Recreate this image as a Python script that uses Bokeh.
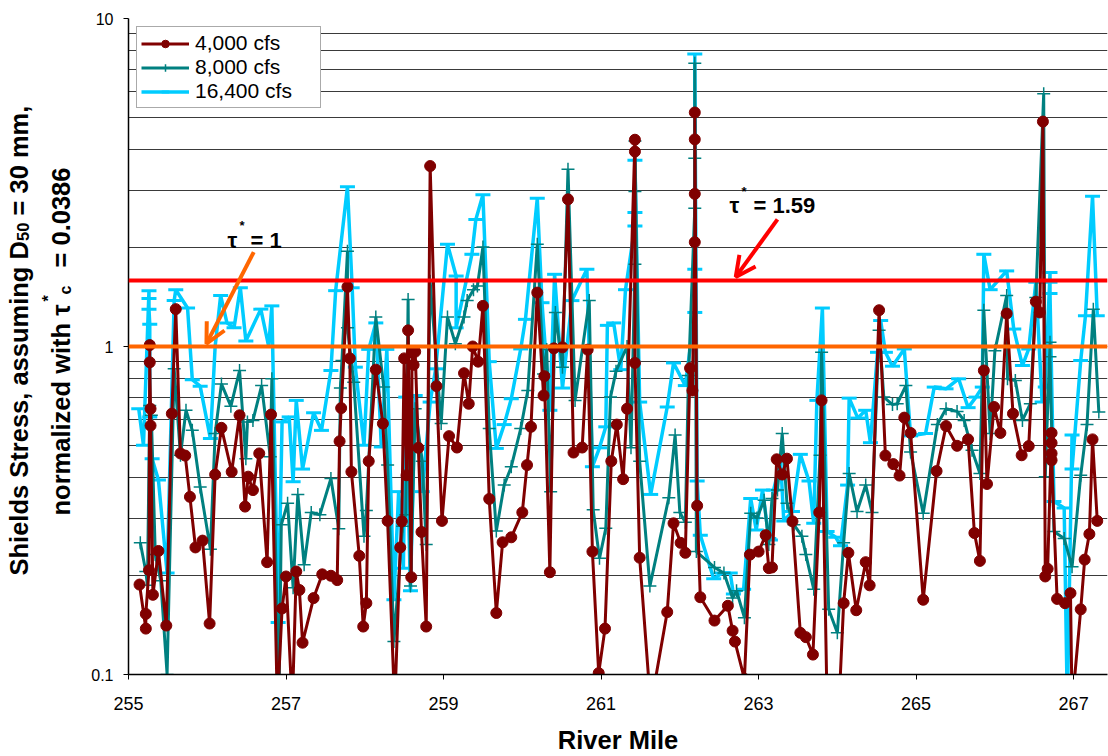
import math
from bokeh.plotting import figure
from bokeh.layouts import row
from bokeh.models import Range1d, FixedTicker, Span, Label, Arrow, OpenHead, Legend, LegendItem
from bokeh.embed import file_html
from bokeh.resources import INLINE

# ---------------- data ----------------
mile_4000 = [255.14,255.22,255.22,255.26,255.27,255.27,255.28,255.28,255.31,255.38,
             255.48,255.55,255.60,255.66,255.72,255.78,255.85,255.94,256.03,256.10,
             256.18,256.31,256.41,256.48,256.52,256.58,256.66,256.76,256.81,256.89,
             256.95,257.00,257.08,257.13,257.17,257.21,257.35,257.46,257.57,257.65,
             257.68,257.70,257.78,257.81,257.83,257.93,257.98,258.02,258.05,258.14,
             258.23,258.29,258.38,258.45,258.47,258.50,258.53,258.55,258.59,258.60,
             258.62,258.64,258.68,258.72,258.78,258.83,258.91,258.98,259.07,259.17,
             259.26,259.32,259.37,259.44,259.50,259.58,259.67,259.75,259.86,260.00,
             260.06,260.11,260.19,260.27,260.28,260.35,260.40,260.51,260.58,260.65,
             260.76,260.83,260.89,260.97,261.05,261.13,261.20,261.28,261.33,261.43,
             261.43,261.43,261.49,261.63,261.84,261.92,262.01,262.07,262.13,262.16,
             262.19,262.19,262.19,262.19,262.22,262.26,262.44,262.61,262.67,262.70,
             262.82,262.89,263.00,263.09,263.13,263.17,263.23,263.30,263.36,263.43,
             263.53,263.60,263.69,263.77,263.80,263.87,264.02,264.08,264.14,264.24,
             264.36,264.41,264.53,264.61,264.71,264.79,264.85,264.93,265.09,265.26,
             265.38,265.52,265.66,265.74,265.81,265.86,265.90,265.99,266.07,266.15,
             266.23,266.34,266.43,266.52,266.57,266.61,266.64,266.67,266.72,266.72,
             266.72,266.72,266.79,266.89,266.96,266.98,267.09,267.14,267.20,267.24,
             267.30]
stress_4000 = [0.188,0.138,0.153,0.208,1.01,0.895,0.646,0.574,0.175,0.238,
               0.141,0.624,1.30,0.472,0.465,0.348,0.244,0.256,0.143,0.407,
               0.565,0.415,0.617,0.325,0.401,0.365,0.472,0.220,0.620,0.08,
               0.159,0.199,0.08,0.206,0.181,0.125,0.171,0.202,0.200,0.194,
               0.514,0.649,1.52,0.92,0.415,0.230,0.140,0.165,0.447,0.85,
               0.582,0.294,0.08,0.244,0.293,0.92,0.405,1.12,0.198,0.96,
               0.879,0.964,0.491,0.272,0.140,3.55,0.757,0.294,0.533,0.492,
               0.829,0.669,1.0,0.899,1.33,0.343,0.154,0.253,0.262,0.312,
               0.435,0.569,1.46,0.709,0.812,0.205,0.987,0.994,2.81,0.475,
               0.492,0.978,0.237,0.101,0.138,0.447,0.578,0.394,0.646,4.27,
               3.93,0.891,0.227,0.08,0.155,0.289,0.252,0.235,0.859,0.734,
               2.08,2.92,4.28,5.17,0.327,0.172,0.146,0.162,0.136,0.126,
               0.097,0.232,0.237,0.266,0.211,0.212,0.453,0.407,0.455,0.293,
               0.134,0.130,0.115,0.312,0.685,0.08,0.08,0.165,0.235,0.157,
               0.220,0.187,1.29,0.465,0.438,0.404,0.607,0.545,0.169,0.417,
               0.572,0.498,0.521,0.270,0.222,0.845,0.381,0.654,0.545,1.26,
               0.624,0.466,0.497,1.37,1.27,4.85,0.199,0.210,0.545,0.508,
               0.472,0.45,0.170,0.165,0.177,0.08,0.158,0.224,0.268,0.521,
               0.294]

mile_8000 = [255.15,255.22,255.24,255.27,255.29,255.34,255.41,255.49,255.58,255.66,
             255.73,255.81,255.91,256.04,256.10,256.18,256.30,256.41,256.49,256.51,
             256.58,256.69,256.80,256.82,256.91,256.94,257.02,257.09,257.15,257.23,
             257.32,257.43,257.57,257.67,257.69,257.71,257.78,257.78,257.86,257.99,
             258.02,258.14,258.24,258.29,258.37,258.48,258.52,258.55,258.58,258.64,
             258.73,258.78,258.83,258.97,259.05,259.15,259.26,259.30,259.38,259.43,
             259.50,259.58,259.67,259.77,259.86,259.98,260.07,260.19,260.27,260.31,
             260.36,260.42,260.51,260.58,260.67,260.85,260.90,260.98,261.06,261.12,
             261.19,261.33,261.38,261.43,261.43,261.43,261.49,261.62,261.86,261.94,
             262.00,262.07,262.11,262.19,262.19,262.19,262.21,262.44,262.56,262.67,
             262.72,262.82,262.90,262.98,263.07,263.13,263.17,263.24,263.30,263.36,
             263.45,263.55,263.60,263.70,263.78,263.80,263.89,264.00,264.08,264.15,
             264.25,264.36,264.44,264.53,264.59,264.70,264.76,264.87,264.93,265.09,
             265.27,265.38,265.52,265.61,265.71,265.81,265.86,265.94,266.00,266.15,
             266.16,266.26,266.35,266.45,266.52,266.62,266.64,266.70,266.70,266.75,
             266.88,266.98,267.09,267.17,267.25,267.32]
stress_8000 = [0.252,0.206,0.187,0.661,0.617,0.232,0.193,0.10,0.855,0.466,
               0.639,0.555,0.373,0.241,0.543,0.769,0.657,0.845,0.455,0.589,
               0.595,0.76,0.461,0.797,0.08,0.286,0.333,0.184,0.354,0.216,
               0.312,0.307,0.396,0.278,0.747,0.906,1.95,1.14,0.778,0.264,
               0.316,1.23,0.752,0.435,0.126,0.283,0.307,1.39,0.186,0.646,
               0.447,0.249,1.58,0.582,1.23,1.02,1.23,1.38,1.49,1.53,
               2.01,0.562,0.274,0.378,0.430,0.562,0.734,2.05,0.825,0.98,
               0.361,1.27,0.865,3.47,0.685,1.38,0.318,0.226,0.279,0.701,
               0.841,1.0,0.491,1.78,2.97,4.23,0.447,0.186,0.346,0.537,
               0.312,0.291,0.816,2.64,3.75,7.3,0.237,0.212,0.204,0.171,
               0.180,0.149,0.310,0.300,0.340,0.249,0.344,0.365,0.543,0.333,
               0.286,0.264,0.232,0.182,0.466,0.96,0.158,0.134,0.252,0.41,
               0.314,0.378,0.312,1.12,0.701,0.665,0.669,0.76,0.477,0.310,
               0.578,0.646,0.634,0.595,0.483,0.41,1.29,0.543,0.97,1.43,
               0.797,0.788,0.595,0.669,1.41,5.9,0.401,1.03,0.93,0.273,
               0.26,0.213,0.405,0.578,1.30,0.631]

mile_16400 = [255.13,255.19,255.26,255.26,255.26,255.27,255.27,255.30,255.38,255.49,
              255.58,255.60,255.75,255.81,255.91,256.04,256.10,256.17,256.25,256.34,
              256.42,256.49,256.68,256.78,256.82,256.90,256.95,257.04,257.09,257.13,
              257.21,257.35,257.45,257.57,257.63,257.78,257.84,257.88,257.99,258.05,
              258.14,258.21,258.28,258.37,258.43,258.49,258.52,258.58,258.64,258.73,
              258.83,258.90,259.05,259.16,259.16,259.36,259.41,259.50,259.58,259.67,
              259.77,259.86,259.98,260.04,260.19,260.25,260.35,260.41,260.51,260.63,
              260.82,260.89,260.98,261.06,261.08,261.16,261.25,261.31,261.43,261.43,
              261.43,261.49,261.63,261.84,261.92,262.07,262.19,262.19,262.19,262.22,
              262.26,262.43,262.54,262.64,262.68,262.81,262.90,262.97,263.05,263.13,
              263.15,263.19,263.28,263.32,263.43,263.53,263.64,263.70,263.74,263.81,
              263.87,263.98,264.04,264.13,264.15,264.26,264.36,264.42,264.51,264.55,
              264.61,264.70,264.85,264.93,265.12,265.23,265.38,265.54,265.66,265.76,
              265.84,265.86,265.94,266.15,266.24,266.35,266.43,266.52,266.60,266.64,
              266.70,266.70,266.70,266.75,266.88,266.92,266.98,266.98,267.09,267.15,
              267.24,267.30]
stress_16400 = [0.646,0.50,1.48,1.40,1.30,1.17,0.61,0.455,0.392,0.204,
                1.38,1.49,1.31,0.792,0.757,0.524,1.0,1.43,1.18,1.14,
                1.51,1.04,1.30,1.0,1.33,0.144,0.589,0.610,0.387,0.685,
                0.423,0.628,0.555,0.845,1.48,3.07,1.51,0.865,0.5,0.98,
                1.18,0.494,0.98,0.169,0.361,0.211,0.701,0.180,0.709,0.361,
                0.677,0.855,2.05,1.64,1.14,1.91,2.44,2.9,0.899,0.489,
                0.578,0.693,0.983,1.21,2.83,1.36,0.639,1.66,0.747,1.38,
                1.72,0.430,0.491,0.569,1.16,1.18,0.85,1.49,2.33,2.56,
                3.7,0.677,0.354,0.654,0.891,0.76,1.27,1.72,7.8,0.389,
                0.266,0.196,0.204,0.204,0.176,0.182,0.344,0.276,0.365,0.26,
                0.257,0.365,0.448,0.294,0.314,0.469,0.389,0.289,0.685,1.31,
                0.273,0.262,0.247,0.378,0.696,0.605,0.639,0.509,0.96,1.20,
                0.96,0.871,0.983,0.534,0.543,0.752,0.743,0.797,0.651,0.701,
                0.752,1.91,1.49,1.70,1.13,0.875,0.983,1.57,0.677,0.752,
                1.68,1.57,1.45,0.337,0.322,0.08,0.537,0.423,0.906,1.24,
                2.87,1.24]

series_labels = ["4,000 cfs", "8,000 cfs", "16,400 cfs"]
x_ticks = [255, 257, 259, 261, 263, 265, 267]
y_ticks = [0.1, 1, 10]
y_minor = [0.2, 0.3, 0.4, 0.5, 0.6, 0.7, 0.8, 0.9, 2, 3, 4, 5, 6, 7, 8, 9]
tau_one = 1.0
tau_159 = 1.59
# arrow ends (River Mile, stress) for the two call-outs
arrow_one = (256.59, 1.94, 255.99, 1.02)
arrow_159 = (263.24, 2.44, 262.71, 1.63)

assert len(mile_4000) == len(stress_4000)
assert len(mile_8000) == len(stress_8000)
assert len(mile_16400) == len(stress_16400)

C4, C8, C16 = "#800000", "#008080", "#00CCFF"
FONT = "Liberation Sans"
TITLE_W = 80

p = figure(width=1108 - TITLE_W, height=756, y_axis_type="log",
           x_range=Range1d(255, 267.43), y_range=Range1d(0.1, 10),
           output_backend="svg", toolbar_location=None,
           min_border_left=128 - TITLE_W, min_border_right=1, min_border_top=18, min_border_bottom=79)
p.outline_line_color = None
p.background_fill_color = "white"
p.border_fill_color = "white"

# grid
p.xgrid.grid_line_color = None
p.ygrid.grid_line_color = "#3a3a3a"
p.ygrid.grid_line_width = 1
p.ygrid.minor_grid_line_color = "#3a3a3a"
p.ygrid.minor_grid_line_width = 1

# axes
p.yaxis.ticker = FixedTicker(ticks=y_ticks, minor_ticks=y_minor)
p.yaxis.major_label_overrides = {0.1: "0.1", 1: "1", 10: "10"}
p.xaxis.ticker = FixedTicker(ticks=x_ticks)
for ax in (p.xaxis[0], p.yaxis[0]):
    ax.axis_line_color = "black"
    ax.axis_line_width = 1.5
    ax.major_tick_line_color = "black"
    ax.major_tick_out = 5
    ax.major_tick_in = 0
    ax.minor_tick_out = 0
    ax.minor_tick_in = 0
    ax.major_label_text_font = FONT
    ax.major_label_text_color = "black"
p.xaxis.major_label_text_font_size = "18px"
p.yaxis.major_label_text_font_size = "16px"
p.xaxis.major_label_standoff = 17
p.yaxis.major_label_standoff = 10
p.xaxis.axis_label = "River Mile"
p.xaxis.axis_label_text_font = FONT
p.xaxis.axis_label_text_font_style = "bold"
p.xaxis.axis_label_text_font_size = "25.5px"
p.xaxis.axis_label_text_color = "black"
p.xaxis.axis_label_standoff = 13

# series (cyan bottom, teal, dark red on top)
l16 = p.line(mile_16400, stress_16400, line_color=C16, line_width=3.5)
s16 = p.scatter(mile_16400, stress_16400, marker="dash", size=15, line_color=C16, line_width=3)
l8 = p.line(mile_8000, stress_8000, line_color=C8, line_width=3)
s8 = p.scatter(mile_8000, stress_8000, marker="cross", size=13, line_color=C8, line_width=1.5)
l4 = p.line(mile_4000, stress_4000, line_color=C4, line_width=3)
s4 = p.scatter(mile_4000, stress_4000, marker="circle", size=11, fill_color=C4, line_color=C4)

# threshold lines
p.add_layout(Span(location=tau_159, dimension="width", line_color="#FF0000", line_width=4))
p.add_layout(Span(location=tau_one, dimension="width", line_color="#FF6600", line_width=4))

# arrows
p.add_layout(Arrow(end=OpenHead(line_color="#FF6600", line_width=4, size=20),
                   x_start=arrow_one[0], y_start=arrow_one[1], x_end=arrow_one[2], y_end=arrow_one[3],
                   line_color="#FF6600", line_width=4))
p.add_layout(Arrow(end=OpenHead(line_color="#FF0000", line_width=4, size=20),
                   x_start=arrow_159[0], y_start=arrow_159[1], x_end=arrow_159[2], y_end=arrow_159[3],
                   line_color="#FF0000", line_width=4))

# legend
legend = Legend(items=[LegendItem(label=series_labels[0], renderers=[l4, s4]),
                       LegendItem(label=series_labels[1], renderers=[l8, s8]),
                       LegendItem(label=series_labels[2], renderers=[l16, s16])],
                location="top_left")
legend.margin = 8
legend.padding = 4
legend.spacing = 0
legend.label_height = 19
legend.glyph_height = 19
legend.glyph_width = 48
legend.label_width = 121
legend.label_standoff = 6
legend.label_text_font = FONT
legend.label_text_font_size = "21px"
legend.label_text_color = "black"
legend.label_text_line_height = 0.9
legend.border_line_color = "#555555"
legend.border_line_width = 1
legend.background_fill_alpha = 1.0
p.add_layout(legend)


def txt(fig, t, x, y, size, angle=0.0):
    # screen units, relative to the figure frame's bottom-left corner
    fig.add_layout(Label(text=t, x=x, y=y, x_units="screen", y_units="screen", angle=angle,
                         text_font=FONT, text_font_size=size, text_font_style="bold",
                         text_align="left", text_baseline="alphabetic", text_color="black"))


# call-out labels
txt(p, "\u03c4", 99, 434, "22px")
txt(p, "*", 111, 449, "13px")
txt(p, "= 1", 122, 434, "22px")
txt(p, "\u03c4", 601, 469, "22px")
txt(p, "*", 613, 483, "13px")
txt(p, "= 1.59", 625, 469, "22px")

# y-axis title panel (left strip); its frame spans the same rows as the main frame
t = figure(width=TITLE_W, height=756, x_range=Range1d(0, TITLE_W), y_range=Range1d(0, 659),
           x_axis_location=None, y_axis_location=None, output_backend="svg", toolbar_location=None,
           min_border_left=0, min_border_right=0, min_border_top=18, min_border_bottom=79)
t.outline_line_color = None
t.grid.visible = False
t.background_fill_color = "white"
t.border_fill_color = "white"

R = math.pi / 2
txt(t, "Shields Stress, assuming D", 18, 99, "25.5px", R)
txt(t, "50", 22, 433.5, "16.5px", R)
txt(t, "= 30 mm,", 18, 459, "25.5px", R)
txt(t, "normalized with \u03c4", 60, 159, "25.5px", R)
txt(t, "*", 48, 373, "16px", R)
txt(t, "c", 65, 380, "16px", R)
txt(t, "= 0.0386", 60, 407, "25.5px", R)

layout = row(t, p, spacing=0)
open("out.html", "w").write(file_html(layout, INLINE))
